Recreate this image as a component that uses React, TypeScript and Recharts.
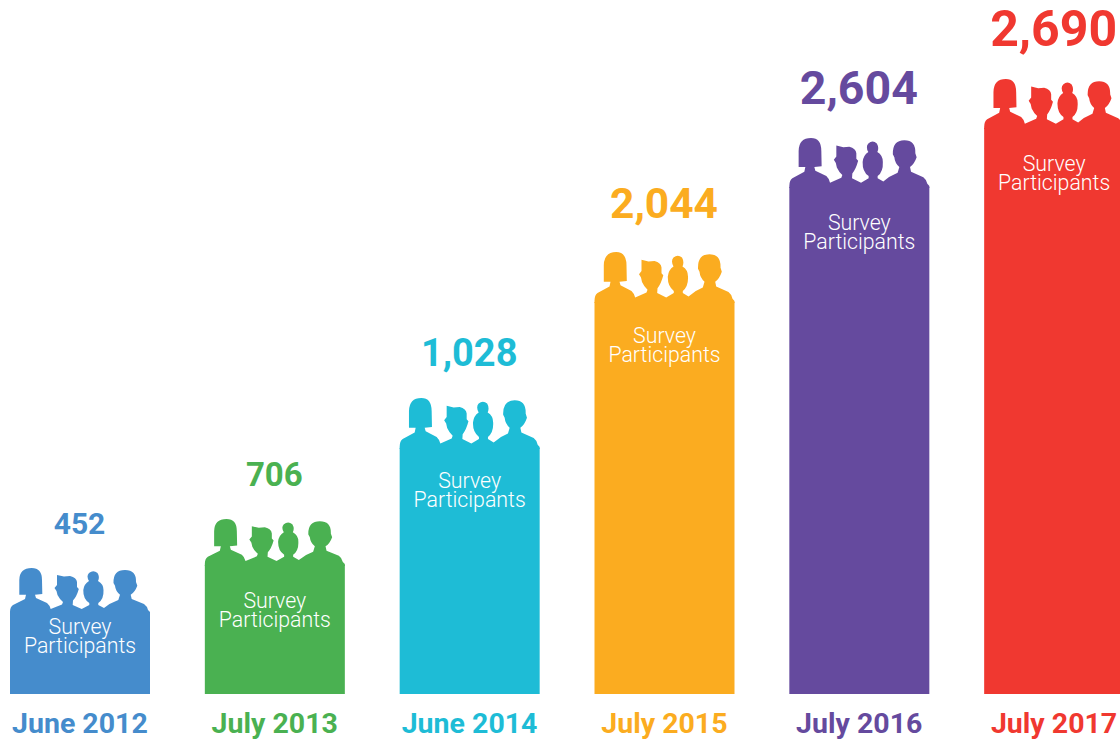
import { BarChart, Bar, XAxis, YAxis, Cell, LabelList } from 'recharts'

const PERIODS = ['June 2012', 'July 2013', 'June 2014', 'July 2015', 'July 2016', 'July 2017']
const PARTICIPANTS = [452, 706, 1028, 2044, 2604, 2690]
// the bars in the picture are not to scale with the counts, so heights are read separately
const BAR_HEIGHTS = [81, 129, 246, 392, 507, 566]
const COLORS = ['#458ccc', '#4ab151', '#1ebcd6', '#fbac20', '#654a9e', '#f03830']
const COUNT_FONT_SIZES = [30, 33, 38, 42.5, 46.5, 50]

// per bar tweaks, the original artwork was laid out by hand
const COUNT_GAPS = [89.5, 90.5, 95.5, 99.5, 99.5, 100.5]
const CAPTION_GAPS = [21, 42.5, 39.5, 40.5, 42.5, 42.5]
const FIGURE_STRETCH = [1, 1.02, 1.11, 1.11, 1.09, 1.09]

const data = PERIODS.map((period, i) => ({
  period,
  height: BAR_HEIGHTS[i],
  participants: PARTICIPANTS[i],
}))

const FONT = 'Roboto, sans-serif'

// four people standing on the bar, local coords: bar top left is 0,0 and the bar is 140 wide
const PEOPLE =
  'M0 1 L0 -1 Q0 -6 3 -8 L15 -14 L16 -18.3 L9.3 -18.3 L9.3 -33 Q9.5 -45 21.7 -45 Q32 -45 32 -33 L32.3 -19 ' +
  'L25 -18.3 L26 -15 L37 -10 Q39.5 -8 40.7 -4 L52 -8.5 L53 -11 Q49.5 -14 47.5 -18 L46.5 -22 L44.5 -25 L47 -28 L47 -38 ' +
  'L54 -36.5 L60 -37 Q66.5 -35.5 67 -31 L67 -26 L68.8 -24 Q66.5 -16 63 -12.5 L62.7 -8 L71.7 -4 L79.3 -8 L79.3 -10 Q73 -14 73.3 -23 ' +
  'Q74 -29 79 -32 Q76 -37 79 -40 Q83.3 -43.5 87.5 -40 Q90 -36 88 -32 Q93.5 -29 93.5 -23 Q94 -14 88.3 -10 L88.3 -8 ' +
  'L94 -5 Q100 -10 108.3 -13 L110 -18.3 Q105.5 -22 105 -27.3 L103.5 -30 Q103 -43 115 -43 Q126.5 -43 126 -31 ' +
  'L127.3 -27.3 Q125 -21 120.7 -18.3 L121.7 -14 L134 -9 Q137 -7 138 -3 L140 -1 L140 1 Z'

function SilhouetteBar(props: any) {
  const { x, y, width, height, fill, index } = props
  const captionTop = y + CAPTION_GAPS[index]
  return (
    <g>
      <rect x={x} y={y} width={width} height={height} fill={fill} />
      <path d={PEOPLE} transform={`translate(${x},${y}) scale(1,${FIGURE_STRETCH[index]})`} fill={fill} />
      <text x={x + width / 2} y={captionTop} textAnchor="middle" fill="#fff" fontFamily={FONT} fontWeight={300} fontSize={21.3}>
        Survey
      </text>
      <text x={x + width / 2} y={captionTop + 19} textAnchor="middle" fill="#fff" fontFamily={FONT} fontWeight={300} fontSize={21.3}>
        Participants
      </text>
    </g>
  )
}

function CountLabel(props: any) {
  const { x, y, width, value, index } = props
  const size = COUNT_FONT_SIZES[index]
  return (
    <text
      x={x + width / 2 - 0.5}
      y={y - COUNT_GAPS[index] + size * 0.36}
      textAnchor="middle"
      fill={COLORS[index]}
      fontFamily={FONT}
      fontWeight={700}
      fontSize={size}
    >
      {value.toLocaleString('en-US')}
    </text>
  )
}

function PeriodTick(props: any) {
  const { x, y, payload, index } = props
  return (
    <text x={x - 0.5} y={y + 33} textAnchor="middle" fill={COLORS[index]} fontFamily={FONT} fontWeight={700} fontSize={28.5}>
      {payload.value}
    </text>
  )
}

export default function App() {
  return (
    <div style={{ position: 'fixed', left: 0, top: 0, width: 1120, height: 742, overflow: 'hidden', background: '#fff' }}>
      <div style={{ position: 'absolute', left: -17.4, top: 0 }}>
        <BarChart
          width={1169}
          height={742}
          data={data}
          margin={{ top: 0, right: 0, bottom: 0, left: 0 }}
          barSize={140}
        >
          <XAxis
            dataKey="period"
            axisLine={false}
            tickLine={false}
            height={48}
            interval={0}
            tick={<PeriodTick />}
            tickMargin={0}
          />
          <YAxis hide domain={[0, 694]} />
          <Bar dataKey="height" shape={<SilhouetteBar />} isAnimationActive={false}>
            {data.map((_, index) => (
              <Cell key={index} fill={COLORS[index]} />
            ))}
            <LabelList dataKey="participants" content={<CountLabel />} />
          </Bar>
        </BarChart>
      </div>
    </div>
  )
}
